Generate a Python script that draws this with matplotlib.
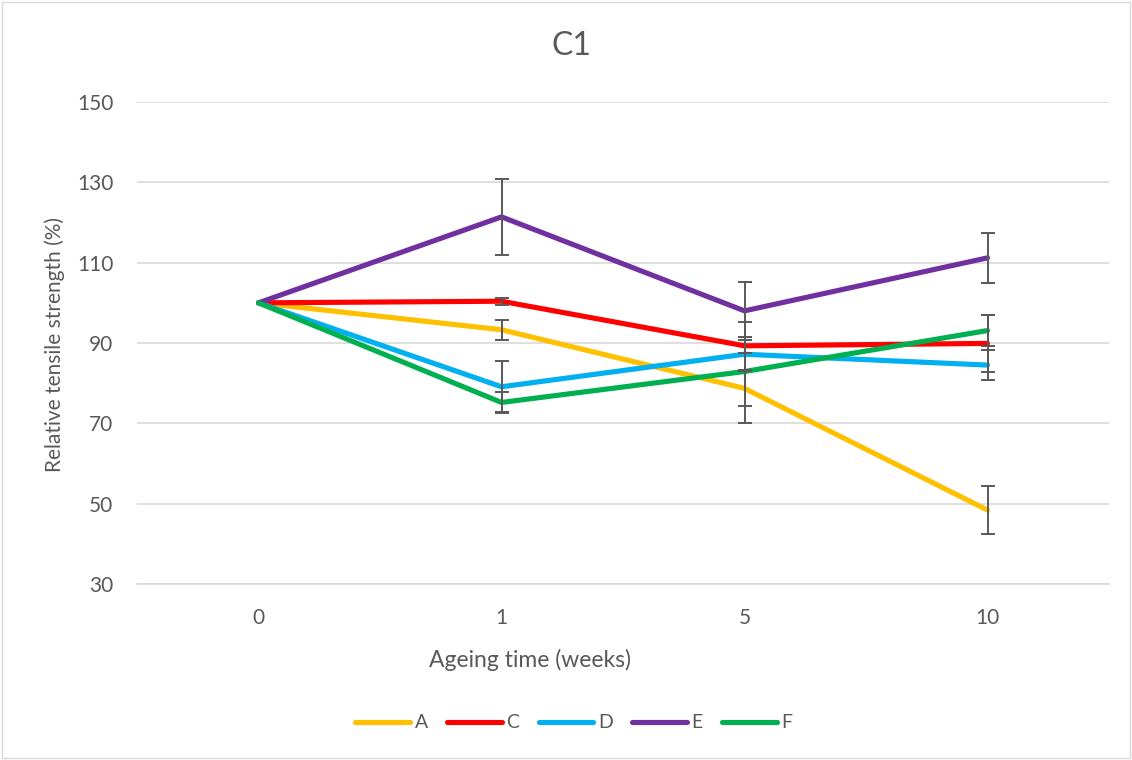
import matplotlib.pyplot as plt
import numpy as np
from matplotlib.patches import Rectangle

weeks = ['0', '1', '5', '10']
series = ['A', 'C', 'D', 'E', 'F']
colors = ['#FFC000', '#FF0000', '#00B0F0', '#7030A0', '#00B050']

values = {
    'A': [100, 93.3, 78.7, 48.4],
    'C': [100, 100.4, 89.3, 89.9],
    'D': [100, 79.1, 87.2, 84.5],
    'E': [100, 121.4, 98.0, 111.2],
    'F': [100, 75.2, 82.9, 93.1],
}
errors = {
    'A': [0, 2.5, 8.7, 6.0],
    'C': [0, 0.9, 6.0, 7.0],
    'D': [0, 6.3, 4.2, 3.7],
    'E': [0, 9.5, 7.2, 6.3],
    'F': [0, 2.7, 8.7, 3.9],
}

textColor = '#595959'
plt.rcParams['font.family'] = ['Lato', 'DejaVu Sans']

W, H = 1132, 760
fig = plt.figure(figsize=(W / 100, H / 100), dpi=100)
ax = fig.add_axes([137 / W, 1 - 584 / H, 972 / W, 482 / H])

x = np.arange(len(weeks))
for name, color in zip(series, colors):
    ax.plot(x, values[name], color=color, linewidth=3.7, solid_capstyle='round',
            solid_joinstyle='round', label=name, zorder=3)
for name in series:
    err = np.array(errors[name])
    mask = err > 0
    ax.errorbar(x[mask], np.array(values[name])[mask], yerr=err[mask], fmt='none',
                ecolor='#595959', elinewidth=1.4, capsize=5, capthick=1.4, zorder=4)

ax.set_xlim(-0.5, len(weeks) - 0.5)
ax.set_ylim(30, 150)
ax.set_yticks(np.arange(30, 151, 20))
ax.set_xticks(x)
ax.set_xticklabels(weeks)
ax.grid(axis='y', color='#D9D9D9', linewidth=1.2)
ax.set_axisbelow(True)
for side in ['top', 'right', 'left']:
    ax.spines[side].set_visible(False)
ax.spines['bottom'].set_color('#D9D9D9')
ax.spines['bottom'].set_linewidth(1.2)
ax.tick_params(length=0, labelsize=15, labelcolor=textColor)
ax.tick_params(axis='x', pad=17)
ax.tick_params(axis='y', pad=17)

# titles placed in figure pixels, like the Excel layout
fig.text(571 / W, 1 - 46 / H, 'C1', fontsize=23, color=textColor, ha='center', va='center')
fig.text(530 / W, 1 - 660 / H, 'Ageing time (weeks)', fontsize=16.5, color=textColor,
         ha='center', va='center')
fig.text(55 / W, 1 - 344 / H, 'Relative tensile strength (%)', fontsize=15, color=textColor,
         ha='center', va='center', rotation=90)

leg = fig.legend(loc='center', bbox_to_anchor=(574 / W, 1 - 723 / H), ncol=5, frameon=False,
                 fontsize=14, handlelength=2.8, handletextpad=0.25, columnspacing=1.0,
                 labelcolor=textColor)

fig.patches.append(Rectangle((0.002, 0.003), 0.996, 0.995, transform=fig.transFigure,
                             fill=False, edgecolor='#D9D9D9', linewidth=1))

fig.savefig('out.png', dpi=100)
